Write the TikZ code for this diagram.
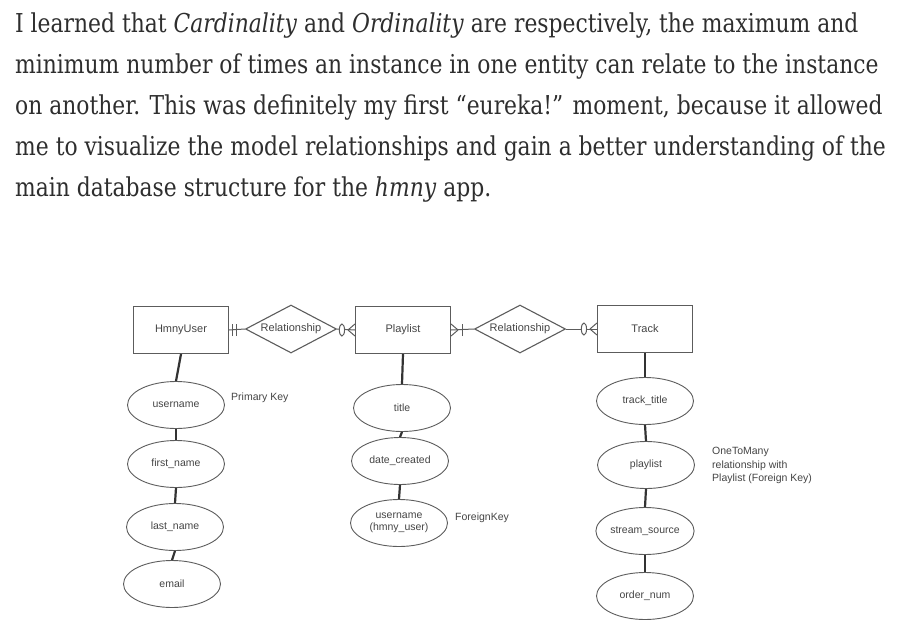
\documentclass[tikz,border=0pt]{standalone}
\usepackage{fontspec}
\setmainfont{DejaVu Serif}[FakeStretch=0.84]
\newfontfamily\erfont{Liberation Sans}
\usetikzlibrary{shapes.geometric,positioning,calc}

\definecolor{bodytext}{HTML}{2E2E2E}
\definecolor{linegray}{HTML}{5C5C5C}
\definecolor{labelgray}{HTML}{444444}

\tikzset{
  entity/.style={draw=linegray, line width=1.1pt, minimum width=95pt, minimum height=47pt,
    font=\erfont\fontsize{11}{13}\selectfont, text=labelgray},
  relation/.style={diamond, draw=linegray, line width=1.1pt, aspect=1.9, inner sep=0pt,
    minimum width=91pt, minimum height=48pt, font=\erfont\fontsize{11}{13}\selectfont, text=labelgray},
  attribute/.style={ellipse, draw=linegray, line width=0.9pt, inner sep=0pt,
    minimum width=97pt, minimum height=47pt, font=\erfont\fontsize{10.5}{12.5}\selectfont, text=labelgray},
  note/.style={font=\erfont\fontsize{10.5}{13.5}\selectfont, text=labelgray, inner sep=0pt},
  link/.style={draw=linegray, line width=1pt},
  stem/.style={draw=black!80, line width=2.2pt},
}

\begin{document}
\begin{tikzpicture}[x=1pt, y=-1pt]
  \useasboundingbox (0,0) rectangle (902,635);

  % paragraph above the diagram
  \foreach \Value/\Base/\Text in {
      1/32/{I learned that \textit{Cardinality} and \textit{Ordinality} are respectively, the maximum and},
      2/73/{minimum number of times an instance in one entity can relate to the instance},
      3/114/{on another. This was definitely my first “eureka!” moment, because it allowed},
      4/155/{me to visualize the model relationships and gain a better understanding of the},
      5/196/{main database structure for the \textit{hmny} app.}}
  {
    \node[anchor=base west, inner sep=0pt, text=bodytext,
          font=\fontsize{26}{41}\selectfont] (line\Value) at (15,\Base) {\Text};
  }

  % entities and relationships
  \node[entity]   (hmnyuser) at (181,330) {HmnyUser};
  \node[relation] (rel1)     at (291,329) {Relationship};
  \node[entity]   (playlist) at (403,330) {Playlist};
  \node[relation] (rel2)     at (520,329) {Relationship};
  \node[entity]   (track)    at (645,329) {Track};

  % attributes of HmnyUser
  \node[attribute] (username)  at (176,405) {username};
  \node[attribute] (firstname) at (176,464) {first\_name};
  \node[attribute] (lastname)  at (175,527) {last\_name};
  \node[attribute] (email)     at (172,584) {email};
  \node[note, anchor=west] (pk) at (231,398) {Primary Key};

  % attributes of Playlist
  \node[attribute] (title)       at (402,408) {title};
  \node[attribute] (datecreated) at (400,461) {date\_created};
  \node[attribute, align=center, font=\erfont\fontsize{10.5}{11.5}\selectfont]
                   (userfk)      at (399,523) {username\\(hmny\_user)};
  \node[note, anchor=west] (fk) at (455,518) {ForeignKey};

  % attributes of Track
  \node[attribute] (tracktitle)   at (645,401) {track\_title};
  \node[attribute] (playlistfk)   at (646,465) {playlist};
  \node[attribute] (streamsource) at (645,531) {stream\_source};
  \node[attribute] (ordernum)     at (645,596) {order\_num};
  \node[note, anchor=north west, align=left] (otm) at (712,447)
       {OneToMany\\relationship with\\Playlist (Foreign Key)};

  % stems
  \draw[stem] (hmnyuser.south) -- (username.north);
  \draw[stem] (username.south) -- (firstname.north);
  \draw[stem] (firstname.south) -- (lastname.north);
  \draw[stem] (lastname.south) -- (email.north);
  \draw[stem] (playlist.south) -- (title.north);
  \draw[stem] (title.south) -- (datecreated.north);
  \draw[stem] (datecreated.south) -- (userfk.north);
  \draw[stem] (track.south) -- (tracktitle.north);
  \draw[stem] (tracktitle.south) -- (playlistfk.north);
  \draw[stem] (playlistfk.south) -- (streamsource.north);
  \draw[stem] (streamsource.south) -- (ordernum.north);

  % HmnyUser -- one and only one
  \draw[link] (hmnyuser.east) -- (rel1.west);
  \draw[link] ([xshift=3pt,yshift=-6pt]hmnyuser.east) -- ([xshift=3pt,yshift=6pt]hmnyuser.east);
  \draw[link] ([xshift=7pt,yshift=-6pt]hmnyuser.east) -- ([xshift=7pt,yshift=6pt]hmnyuser.east);

  % Playlist -- zero or many
  \draw[link] (rel1.east) -- (playlist.west);
  \draw[link, fill=white] ([xshift=-13pt]playlist.west) ellipse (2.6pt and 6pt);
  \draw[link] ([xshift=-7pt]playlist.west) -- ([yshift=-6pt]playlist.west)
              ([xshift=-7pt]playlist.west) -- ([yshift=6pt]playlist.west);

  % Playlist -- one or many
  \draw[link] (playlist.east) -- (rel2.west);
  \draw[link] ([xshift=7pt]playlist.east) -- ([yshift=-6pt]playlist.east)
              ([xshift=7pt]playlist.east) -- ([yshift=6pt]playlist.east);
  \draw[link] ([xshift=11pt,yshift=-6pt]playlist.east) -- ([xshift=11pt,yshift=6pt]playlist.east);

  % Track -- zero or many
  \draw[link] (rel2.east) -- (track.west);
  \draw[link, fill=white] ([xshift=-13pt]track.west) ellipse (2.6pt and 6pt);
  \draw[link] ([xshift=-7pt]track.west) -- ([yshift=-6pt]track.west)
              ([xshift=-7pt]track.west) -- ([yshift=6pt]track.west);
\end{tikzpicture}
\end{document}
